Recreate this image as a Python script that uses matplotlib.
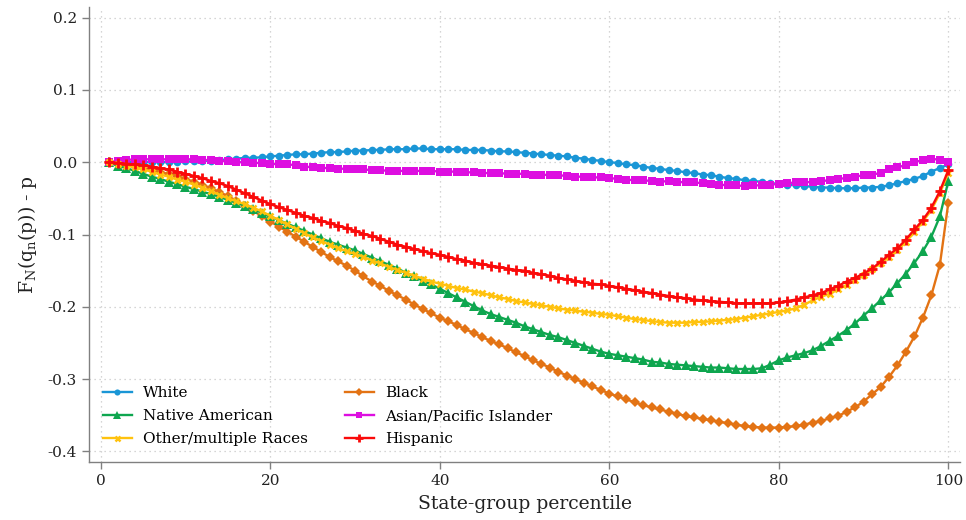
import numpy as np
import matplotlib
matplotlib.use("Agg")
import matplotlib.pyplot as plt

plt.rcParams['font.family'] = ['DejaVu Serif']
plt.rcParams['mathtext.fontset'] = 'dejavuserif'

pct = np.arange(1, 101)

white = [0.000, 0.000, 0.000, 0.000, 0.000, 0.000, 0.000, 0.000, 0.000, 0.001,
         0.001, 0.002, 0.002, 0.003, 0.004, 0.005, 0.006, 0.006, 0.007, 0.008,
         0.009, 0.010, 0.011, 0.011, 0.012, 0.013, 0.014, 0.014, 0.015, 0.016,
         0.016, 0.017, 0.017, 0.018, 0.018, 0.018, 0.019, 0.019, 0.018, 0.018,
         0.018, 0.018, 0.017, 0.017, 0.017, 0.016, 0.015, 0.015, 0.014, 0.013,
         0.012, 0.011, 0.010, 0.009, 0.008, 0.006, 0.005, 0.003, 0.002, 0.000,
         -0.001, -0.003, -0.004, -0.006, -0.008, -0.009, -0.011, -0.012, -0.014, -0.015,
         -0.017, -0.018, -0.020, -0.022, -0.023, -0.025, -0.026, -0.027, -0.029, -0.030,
         -0.031, -0.032, -0.033, -0.034, -0.035, -0.035, -0.036, -0.036, -0.036, -0.035,
         -0.035, -0.034, -0.032, -0.029, -0.026, -0.023, -0.019, -0.013, -0.008, -0.003]

black = [0.000, -0.002, -0.003, -0.005, -0.008, -0.011, -0.014, -0.016, -0.019, -0.023,
         -0.027, -0.031, -0.036, -0.041, -0.047, -0.053, -0.060, -0.067, -0.075, -0.082,
         -0.089, -0.096, -0.103, -0.110, -0.117, -0.124, -0.131, -0.137, -0.143, -0.150,
         -0.158, -0.165, -0.171, -0.178, -0.184, -0.190, -0.197, -0.203, -0.209, -0.215,
         -0.220, -0.225, -0.231, -0.236, -0.242, -0.247, -0.252, -0.257, -0.263, -0.268,
         -0.274, -0.279, -0.284, -0.290, -0.295, -0.300, -0.305, -0.310, -0.315, -0.320,
         -0.324, -0.328, -0.332, -0.336, -0.339, -0.342, -0.345, -0.348, -0.351, -0.353,
         -0.355, -0.357, -0.359, -0.361, -0.363, -0.365, -0.366, -0.367, -0.367, -0.367,
         -0.366, -0.365, -0.363, -0.360, -0.358, -0.354, -0.351, -0.345, -0.339, -0.331,
         -0.321, -0.311, -0.297, -0.281, -0.262, -0.241, -0.215, -0.184, -0.142, -0.056]

native = [0.000, -0.005, -0.008, -0.012, -0.016, -0.020, -0.023, -0.027, -0.030, -0.034,
          -0.037, -0.041, -0.044, -0.048, -0.052, -0.056, -0.060, -0.065, -0.070, -0.075,
          -0.080, -0.085, -0.090, -0.095, -0.100, -0.105, -0.110, -0.114, -0.118, -0.122,
          -0.127, -0.132, -0.137, -0.142, -0.147, -0.153, -0.158, -0.164, -0.169, -0.175,
          -0.181, -0.187, -0.193, -0.199, -0.205, -0.210, -0.214, -0.218, -0.222, -0.227,
          -0.231, -0.235, -0.239, -0.242, -0.246, -0.250, -0.254, -0.258, -0.262, -0.265,
          -0.267, -0.269, -0.271, -0.273, -0.276, -0.277, -0.279, -0.280, -0.281, -0.282,
          -0.283, -0.284, -0.284, -0.285, -0.286, -0.286, -0.286, -0.285, -0.280, -0.274,
          -0.270, -0.267, -0.264, -0.260, -0.254, -0.247, -0.240, -0.232, -0.223, -0.212,
          -0.202, -0.191, -0.180, -0.167, -0.154, -0.139, -0.123, -0.103, -0.075, -0.026]

asian = [0.000, 0.002, 0.003, 0.004, 0.004, 0.004, 0.004, 0.004, 0.004, 0.004,
         0.004, 0.003, 0.003, 0.002, 0.001, 0.000, 0.000, -0.001, -0.001, -0.002,
         -0.003, -0.003, -0.004, -0.006, -0.007, -0.008, -0.008, -0.009, -0.009, -0.010,
         -0.010, -0.011, -0.011, -0.012, -0.012, -0.012, -0.012, -0.012, -0.012, -0.013,
         -0.013, -0.013, -0.014, -0.014, -0.015, -0.015, -0.015, -0.016, -0.016, -0.016,
         -0.017, -0.017, -0.018, -0.018, -0.019, -0.020, -0.020, -0.021, -0.021, -0.022,
         -0.023, -0.024, -0.025, -0.025, -0.026, -0.027, -0.026, -0.027, -0.028, -0.028,
         -0.029, -0.030, -0.031, -0.032, -0.032, -0.033, -0.032, -0.032, -0.031, -0.030,
         -0.029, -0.028, -0.028, -0.027, -0.026, -0.025, -0.023, -0.022, -0.020, -0.018,
         -0.017, -0.015, -0.010, -0.007, -0.004, 0.000, 0.003, 0.005, 0.003, 0.000]

other = [0.000, -0.002, -0.005, -0.007, -0.010, -0.013, -0.017, -0.020, -0.024, -0.027,
         -0.031, -0.035, -0.040, -0.045, -0.050, -0.054, -0.058, -0.063, -0.068, -0.074,
         -0.080, -0.086, -0.092, -0.098, -0.104, -0.109, -0.114, -0.119, -0.123, -0.127,
         -0.131, -0.136, -0.140, -0.145, -0.149, -0.153, -0.157, -0.161, -0.165, -0.168,
         -0.171, -0.174, -0.176, -0.179, -0.181, -0.184, -0.187, -0.189, -0.192, -0.194,
         -0.196, -0.198, -0.200, -0.202, -0.204, -0.205, -0.207, -0.208, -0.210, -0.211,
         -0.213, -0.215, -0.217, -0.218, -0.220, -0.221, -0.222, -0.222, -0.222, -0.221,
         -0.221, -0.220, -0.219, -0.218, -0.217, -0.215, -0.213, -0.211, -0.209, -0.207,
         -0.205, -0.202, -0.197, -0.191, -0.186, -0.182, -0.176, -0.170, -0.163, -0.156,
         -0.148, -0.140, -0.131, -0.122, -0.110, -0.097, -0.082, -0.066, -0.043, -0.015]

hispanic = [0.000, -0.001, -0.002, -0.003, -0.004, -0.006, -0.008, -0.010, -0.013, -0.016,
            -0.019, -0.022, -0.026, -0.029, -0.033, -0.038, -0.043, -0.048, -0.053, -0.058,
            -0.062, -0.066, -0.070, -0.074, -0.077, -0.081, -0.084, -0.088, -0.091, -0.095,
            -0.099, -0.102, -0.106, -0.110, -0.114, -0.117, -0.120, -0.123, -0.126, -0.128,
            -0.131, -0.134, -0.136, -0.139, -0.141, -0.143, -0.145, -0.147, -0.149, -0.150,
            -0.153, -0.155, -0.157, -0.160, -0.162, -0.164, -0.166, -0.168, -0.169, -0.171,
            -0.173, -0.175, -0.177, -0.179, -0.181, -0.183, -0.185, -0.187, -0.188, -0.190,
            -0.191, -0.192, -0.193, -0.194, -0.195, -0.195, -0.195, -0.195, -0.195, -0.194,
            -0.192, -0.190, -0.187, -0.184, -0.181, -0.176, -0.171, -0.165, -0.160, -0.154,
            -0.147, -0.138, -0.128, -0.119, -0.107, -0.093, -0.080, -0.063, -0.040, -0.011]

# drawing order (row-wise legend order of the original)
# name, values, colour, marker, size, edge width
series = [
    ("White", white, '#1a96d6', 'o', 5.5, 0),
    ("Black", black, '#e37314', 'D', 5.0, 0),
    ("Native American", native, '#0ea64f', '^', 6.5, 0),
    ("Asian/Pacific Islander", asian, '#dd0ee0', 's', 5.5, 0),
    ("Other/multiple Races", other, '#ffc20e', 'x', 4.5, 1.8),
    ("Hispanic", hispanic, '#fa0a0a', '+', 7.0, 2.0),
]

fig = plt.figure(figsize=(9.66, 5.2), dpi=100)
ax = fig.add_axes([0.092, 0.111, 0.902, 0.876])

lines = {}
for name, vals, col, mk, ms, mew in series:
    l, = ax.plot(pct, vals, color=col, lw=1.7, marker=mk, ms=ms, mew=mew, label=name)
    lines[name] = l

ax.set_xlim(-1.4, 101.4)
ax.set_ylim(-0.415, 0.215)
ax.set_xticks([0, 20, 40, 60, 80, 100])
ax.set_yticks([-0.4, -0.3, -0.2, -0.1, 0.0, 0.1, 0.2])
ax.set_yticklabels(['-0.4', '-0.3', '-0.2', '-0.1', '0.0', '0.1', '0.2'])
ax.grid(True, linestyle=(0, (1, 3)), color='#c8c8c8', lw=0.9)
ax.set_axisbelow(True)

for s in ['top', 'right']:
    ax.spines[s].set_visible(False)
for s in ['left', 'bottom']:
    ax.spines[s].set_color('#808080')
    ax.spines[s].set_linewidth(1.0)
ax.tick_params(colors='#808080', labelcolor='#222222', labelsize=11, length=5, width=1)

ax.set_xlabel('State-group percentile', fontsize=13.5, color='#222222', labelpad=5)
ax.set_ylabel(r'F$_\mathregular{N}$(q$_\mathregular{n}$(p)) - p', fontsize=13.5, color='#222222', labelpad=6)

order = ["White", "Native American", "Other/multiple Races", "Black", "Asian/Pacific Islander", "Hispanic"]
ax.legend([lines[n] for n in order], order, ncol=2, loc='lower left', frameon=False,
          fontsize=11, bbox_to_anchor=(0.0, 0.005), handlelength=1.9, columnspacing=2.4,
          labelspacing=0.6, handletextpad=0.75, markerscale=0.8)

fig.savefig('out.png', dpi=100)
